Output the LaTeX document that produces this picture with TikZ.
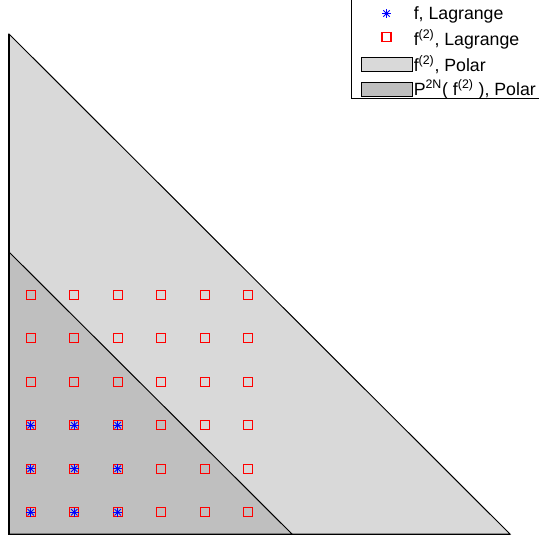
\documentclass[tikz,border=0pt]{standalone}
\usepackage{fontspec}
\setmainfont{Liberation Sans}
\definecolor{bigfill}{RGB}{217,217,217}
\definecolor{smallfill}{RGB}{191,191,191}
\definecolor{mkred}{RGB}{255,0,0}
\definecolor{mkblue}{RGB}{0,0,255}
\tikzset{
  edgeline/.style={draw=black, line width=0.75pt},
  sqmark/.style={draw=mkred, line width=0.8pt},
  astmark/.style={draw=mkblue, line width=0.7pt},
  legtext/.style={anchor=base west, inner sep=0pt, font=\fontsize{13.3}{15}\selectfont},
  pics/asterisk/.style={code={
    \draw[astmark] (-4.5,0) -- (4.5,0);
    \draw[astmark] (0,-4.5) -- (0,4.5);
    \draw[astmark] (-3.2,-3.2) -- (3.2,3.2);
    \draw[astmark] (-3.2,3.2) -- (3.2,-3.2);
  }},
  pics/square/.style={code={
    \draw[sqmark] (-4.5,-4.5) rectangle (4.5,4.5);
  }}
}
\begin{document}
\begin{tikzpicture}[x=0.75pt,y=-0.75pt]
\path[use as bounding box] (0,0) rectangle (539,540);
\clip (0,0) rectangle (539,540);
% polar regions
\filldraw[fill=bigfill, edgeline] (9,34) -- (9,534) -- (510,534) -- cycle;
\filldraw[fill=smallfill, edgeline] (9,252) -- (9,534) -- (292,534) -- cycle;
\draw[black, line width=0.9pt] (9,34) -- (9,534.5) -- (510,534.5);
% f^(2) Lagrange points
\foreach \x in {30.75,74.25,117.75,161.25,204.75,248.25}
  \foreach \y in {294.75,338.25,381.75,425.25,468.75,512.25}
    \pic at (\x,\y) {square};
% f Lagrange points
\foreach \x in {30.75,74.25,117.75}
  \foreach \y in {425.25,468.75,512.25}
    \pic at (\x,\y) {asterisk};
% legend
\draw[fill=white, draw=black, line width=0.75pt] (351,-5) rectangle (545,98);
\pic at (386.5,13.5) {asterisk};
\node[legtext] (l1) at (413.5,19) {f, Lagrange};
\pic at (386.5,37) {square};
\node[legtext] (l2) at (413.5,45) {f\textsuperscript{(2)}, Lagrange};
\draw[fill=bigfill, draw=black, line width=0.75pt] (361,57) rectangle (412,71);
\node[legtext] (l3) at (413.5,71) {f\textsuperscript{(2)}, Polar};
\draw[fill=smallfill, draw=black, line width=0.75pt] (361,82) rectangle (412,96);
\node[legtext] (l4) at (413.5,95) {P\textsuperscript{2N}( f\textsuperscript{(2)} ), Polar};
\end{tikzpicture}
\end{document}
